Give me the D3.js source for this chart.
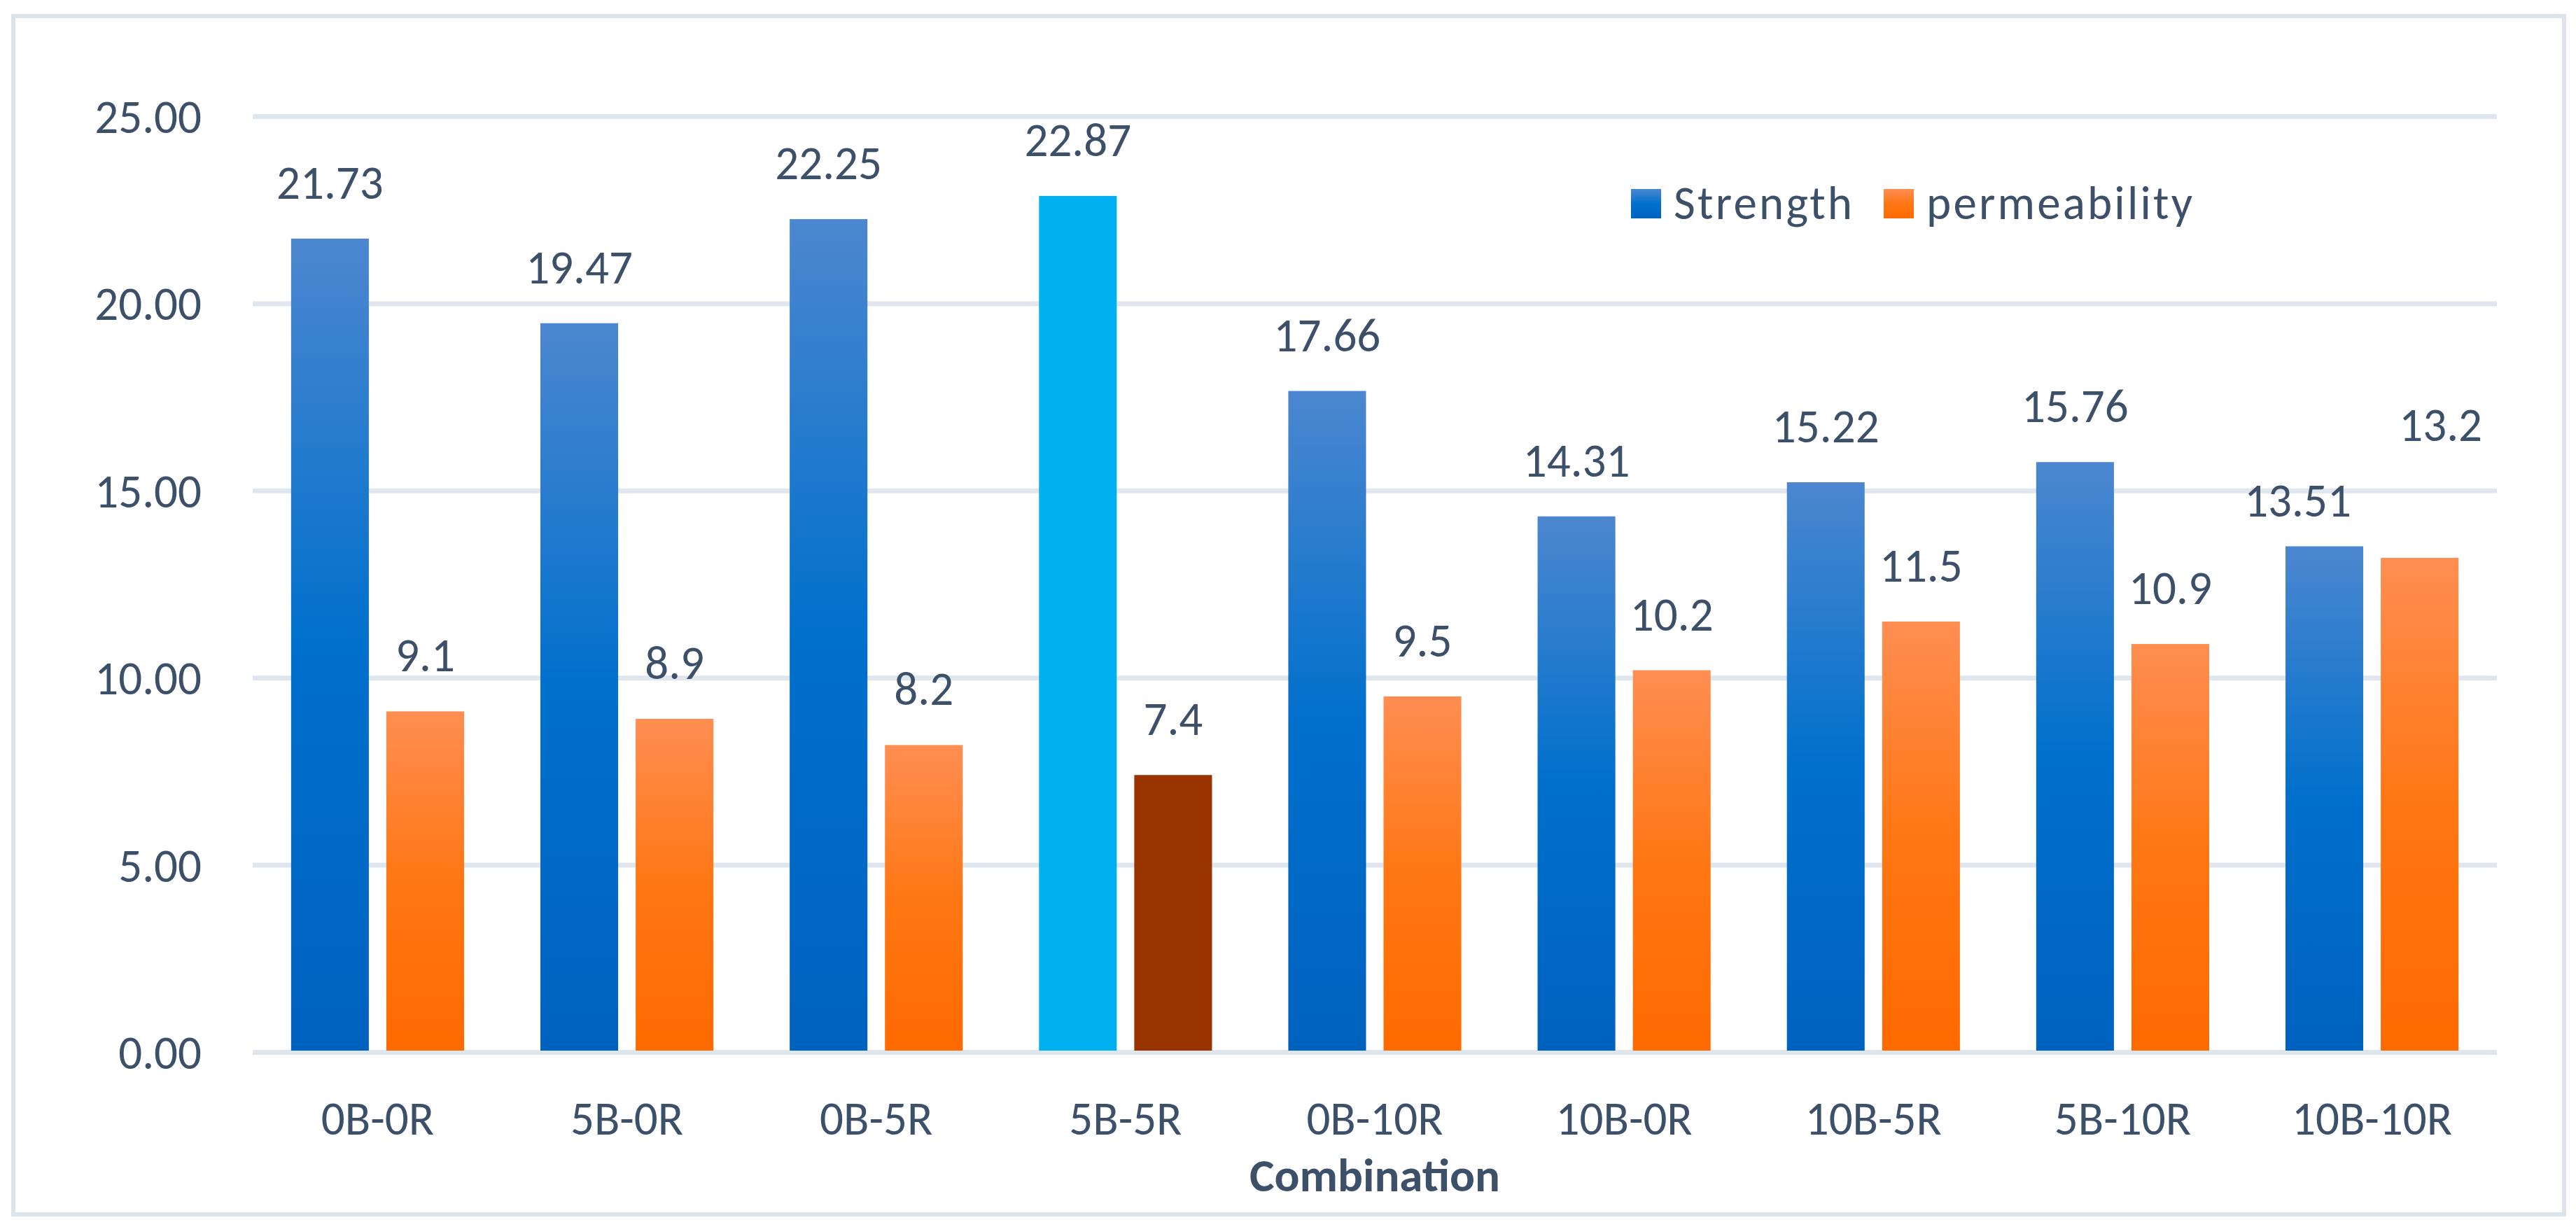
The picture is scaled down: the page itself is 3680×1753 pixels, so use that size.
<!DOCTYPE html>
<html>
<head>
<meta charset="utf-8">
<script src="https://cdn.jsdelivr.net/npm/d3@7/dist/d3.min.js"></script>
<style>
  html, body { margin: 0; padding: 0; background: #fff; }
  svg { display: block; }
  text { font-family: Calibri, Carlito, Lato, sans-serif; fill: #3c5069; }
</style>
</head>
<body>
<div id="chart"></div>
<script>
// data
var categories = ['0B-0R', '5B-0R', '0B-5R', '5B-5R', '0B-10R', '10B-0R', '10B-5R', '5B-10R', '10B-10R'];
var strength = [21.73, 19.47, 22.25, 22.87, 17.66, 14.31, 15.22, 15.76, 13.51];
var permeability = [9.1, 8.9, 8.2, 7.4, 9.5, 10.2, 11.5, 10.9, 13.2];
var strengthLabels = ['21.73', '19.47', '22.25', '22.87', '17.66', '14.31', '15.22', '15.76', '13.51'];
var permLabels = ['9.1', '8.9', '8.2', '7.4', '9.5', '10.2', '11.5', '10.9', '13.2'];
var yTicks = [0, 5, 10, 15, 20, 25];
var seriesNames = ['Strength', 'permeability'];

var W = 3680, H = 1753;
var margin = { left: 361, right: W - 3567, top: 166, bottom: H - 1503 };
var fontSize = 67;
var labelGap = 57;

// hand moved data labels (last group only)
var nudge = {
    s: { 8: { dx: -38, dy: 15 } },
    p: { 8: { dx: 30, dy: -110 } }
};
// points with their own fill
var special = { s: { 3: '#00b0f0' }, p: { 3: '#993300' } };

var svg = d3.select('#chart').append('svg')
    .attr('width', W)
    .attr('height', H);

var defs = svg.append('defs');
function grad(id, stops) {
    var g = defs.append('linearGradient').attr('id', id)
        .attr('x1', 0).attr('y1', 0).attr('x2', 0).attr('y2', 1);
    stops.forEach(function (s) {
        g.append('stop').attr('offset', s[0]).attr('stop-color', s[1]);
    });
}
grad('gBlue', [[0, '#4c87cf'], [0.5, '#0070cc'], [1, '#0062bf']]);
grad('gOrange', [[0, '#ff8e52'], [0.5, '#ff7714'], [1, '#ff6a00']]);
var fills = { s: 'url(#gBlue)', p: 'url(#gOrange)' };

// outer frame
svg.append('rect')
    .attr('x', 19).attr('y', 23)
    .attr('width', 3663 - 19).attr('height', 1735 - 23)
    .attr('fill', '#fff')
    .attr('stroke', '#dce3ea')
    .attr('stroke-width', 6);

var x0 = d3.scaleBand()
    .domain(categories)
    .range([margin.left, W - margin.right])
    .paddingInner(0.306)
    .paddingOuter(0.154);

var x1 = d3.scaleBand()
    .domain(['s', 'p'])
    .range([0, x0.bandwidth()])
    .paddingInner(0.184);

var y = d3.scaleLinear()
    .domain([0, 25])
    .range([H - margin.bottom, margin.top]);

// gridlines
var yAxis = d3.axisLeft(y)
    .tickValues(yTicks)
    .tickSize(-(W - margin.left - margin.right))
    .tickPadding(73)
    .tickFormat(d3.format('.2f'));

var gy = svg.append('g')
    .attr('class', 'y axis')
    .attr('transform', 'translate(' + margin.left + ',0)')
    .call(yAxis);
gy.select('.domain').remove();
gy.selectAll('.tick line')
    .attr('stroke', '#dfe6ed')
    .attr('stroke-width', 7);
gy.selectAll('.tick text')
    .attr('fill', '#3c5069')
    .style('font-size', fontSize + 'px')
    .attr('dy', '0.35em');

// x axis labels
var xAxis = d3.axisBottom(x0).tickSize(0).tickPadding(70);
var gx = svg.append('g')
    .attr('class', 'x axis')
    .attr('transform', 'translate(0,' + (H - margin.bottom) + ')')
    .call(xAxis);
gx.select('.domain').remove();
gx.selectAll('.tick text')
    .attr('fill', '#3c5069')
    .style('font-size', fontSize + 'px')
    .attr('dy', '0.71em');

gx.append('text')
    .attr('x', (margin.left + W - margin.right) / 2)
    .attr('y', 1702 - (H - margin.bottom))
    .attr('text-anchor', 'middle')
    .attr('fill', '#3c5069')
    .style('font-size', fontSize + 'px')
    .style('font-weight', 'bold')
    .text('Combination');

// bars
var rows = categories.map(function (c, i) {
    return [
        { key: 's', i: i, cat: c, v: strength[i], label: strengthLabels[i] },
        { key: 'p', i: i, cat: c, v: permeability[i], label: permLabels[i] }
    ];
});

var groups = svg.append('g').attr('class', 'bars')
    .selectAll('g').data(rows).enter().append('g')
    .attr('transform', function (d) { return 'translate(' + x0(d[0].cat) + ',0)'; });

groups.selectAll('rect').data(function (d) { return d; }).enter().append('rect')
    .attr('x', function (d) { return x1(d.key); })
    .attr('width', x1.bandwidth())
    .attr('y', function (d) { return y(d.v); })
    .attr('height', function (d) { return y(0) - y(d.v) - 2; })
    .attr('fill', function (d) { return special[d.key][d.i] || fills[d.key]; });

groups.selectAll('text').data(function (d) { return d; }).enter().append('text')
    .attr('x', function (d) {
        var n = nudge[d.key][d.i];
        return x1(d.key) + x1.bandwidth() / 2 + (n ? n.dx : 0);
    })
    .attr('y', function (d) {
        var n = nudge[d.key][d.i];
        return y(d.v) - labelGap + (n ? n.dy : 0);
    })
    .attr('text-anchor', 'middle')
    .style('font-size', fontSize + 'px')
    .text(function (d) { return d.label; });

// legend
var legend = svg.append('g').attr('class', 'legend')
    .attr('transform', 'translate(2330,270)');
var legX = [0, 361];
var legLen = [255, 380];
seriesNames.forEach(function (name, k) {
    var g = legend.append('g').attr('transform', 'translate(' + legX[k] + ',0)');
    g.append('rect')
        .attr('width', 43).attr('height', 42)
        .attr('fill', k === 0 ? fills.s : fills.p);
    g.append('text')
        .attr('x', 61).attr('y', 43)
        .attr('textLength', legLen[k])
        .attr('lengthAdjust', 'spacing')
        .style('font-size', fontSize + 'px')
        .text(name);
});
</script>
</body>
</html>
